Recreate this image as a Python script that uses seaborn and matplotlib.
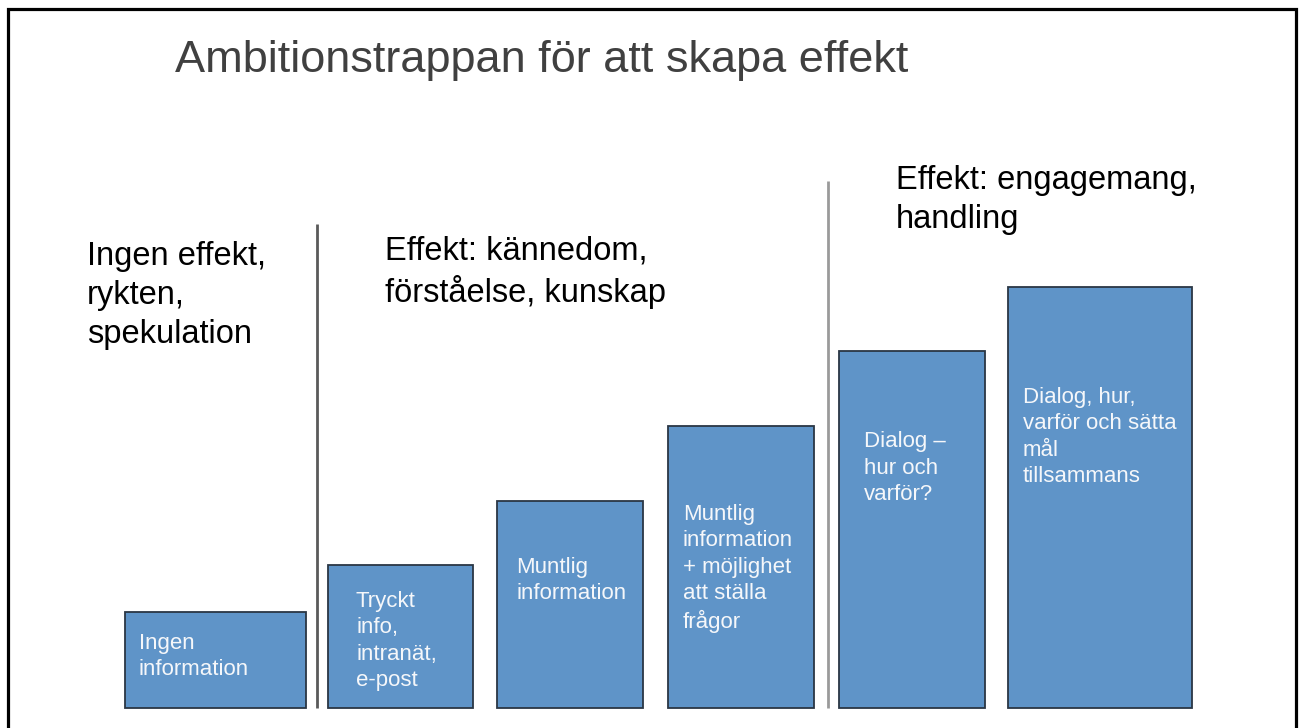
import matplotlib.pyplot as plt
import matplotlib.patches as mpatches
import pandas as pd
import seaborn as sns

# Data
steps = ['Ingen\ninformation',
         'Tryckt\ninfo,\nintranät,\ne-post',
         'Muntlig\ninformation',
         'Muntlig\ninformation\n+ möjlighet\natt ställa\nfrågor',
         'Dialog –\nhur och\nvarför?',
         'Dialog, hur,\nvarför och sätta\nmål\ntillsammans']
levels = [96, 143, 207, 282, 357, 421]
groups = ['Ingen effekt,\nrykten,\nspekulation',
          'Effekt: kännedom,\nförståelse, kunskap',
          'Effekt: engagemang,\nhandling']
title = 'Ambitionstrappan för att skapa effekt'

# Layout (pixel units, y measured upward; text y = baseline of last line)
W, H = 1304, 728
base = 20
bar_left = [125, 328, 497, 668, 839, 1008]
bar_width = [181, 145, 146, 146, 146, 184]
label_pos = [(139, 53), (356, 42), (516, 129), (683, 100), (864, 228), (1023, 246)]
group_pos = [(87, 385), (385, 426), (896, 500)]
dividers = [(317, 504, '#5a5a5a'), (828, 547, '#9a9a9a')]

df = pd.DataFrame({'step': steps, 'level': levels})

sns.set_style('white')
plt.rcParams['font.family'] = ['Liberation Sans', 'DejaVu Sans']

fig = plt.figure(figsize=(13.04, 7.28), dpi=100)
ax = fig.add_axes([0, 0, 1, 1])
sns.barplot(x='step', y='level', data=df, color='#5f94c8', saturation=1,
            edgecolor='#2a3644', linewidth=1.3, ax=ax)

# variable widths, as on the original slide
for patch, left, width in zip(ax.patches, bar_left, bar_width):
    patch.set_x(left)
    patch.set_width(width)
    patch.set_y(base)

ax.set_xlim(0, W)
ax.set_ylim(0, H)
ax.axis('off')

for text, (x, y) in zip(steps, label_pos):
    ax.text(x, y, text, color='#f5f7fa', fontsize=16, ha='left', va='baseline',
            linespacing=1.33)

for text, (x, y) in zip(groups, group_pos):
    ax.text(x, y, text, color='black', fontsize=23.5, ha='left', va='baseline',
            linespacing=1.33)

for x, top, c in dividers:
    ax.plot([x, x], [base, top], color=c, lw=2, solid_capstyle='butt')

ax.text(175, 656, title, color='#404040', fontsize=32.5, ha='left', va='baseline')

# slide frame
ax.add_patch(mpatches.Rectangle((7.5, -20), 1288.5, 739, fill=False,
                                edgecolor='black', lw=2.3, clip_on=False))

fig.savefig('out.png', dpi=100)
